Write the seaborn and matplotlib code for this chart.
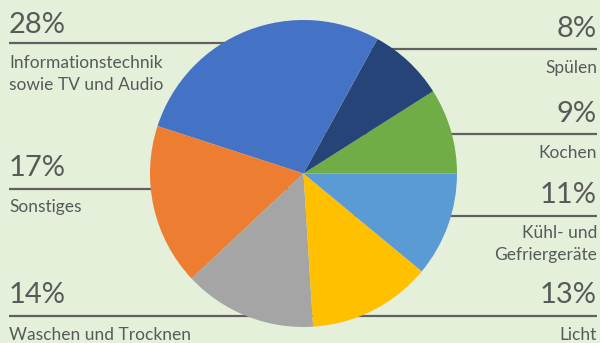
import matplotlib
matplotlib.use("Agg")
import matplotlib.pyplot as plt
import seaborn as sns

# ---- data ----
categories = ["Kochen", "Spülen", "Informationstechnik\nsowie TV und Audio", "Sonstiges",
              "Waschen und Trocknen", "Licht", "Kühl- und\nGefriergeräte"]
values = [9, 8, 28, 17, 14, 13, 11]
colors = ["#70AD47", "#264478", "#4472C4", "#ED7D31", "#A5A5A5", "#FFC000", "#5B9BD5"]

sns.set_theme(style="white")
plt.rcParams["font.family"] = ["Lato", "DejaVu Sans"]

BG = "#E5F0DB"
TXT = "#595959"
W, H = 600, 343

fig = plt.figure(figsize=(6, 3.43), dpi=100, facecolor=BG)

# background axes in pixel coordinates for lines and labels
bg = fig.add_axes([0, 0, 1, 1], zorder=0)
bg.set_xlim(0, W)
bg.set_ylim(H, 0)
bg.axis("off")

# layout: (side, line_y, pct_baseline, label_baseline)
layout = {
    "Informationstechnik\nsowie TV und Audio": ("L", 43.3, 33, 68),
    "Sonstiges": ("L", 189.3, 176, 212),
    "Waschen und Trocknen": ("L", 315.7, 303, 340),
    "Spülen": ("R", 49.3, 37, 73),
    "Kochen": ("R", 134.3, 122, 158),
    "Kühl- und\nGefriergeräte": ("R", 215.7, 203, 238),
    "Licht": ("R", 315.7, 303, 340),
}
cx = 303.5
for cat, val in zip(categories, values):
    side, ly, pb, lb = layout[cat]
    if side == "L":
        x0, x1, tx, ha = 9, cx, 9, "left"
    else:
        x0, x1, tx, ha = cx, 597, 597, "right"
    bg.plot([x0, x1], [ly, ly], color="#606060", lw=1.6, solid_capstyle="butt")
    bg.text(tx, pb, f"{val}%", ha=ha, va="baseline", fontsize=21, color=TXT)
    lines = cat.split("\n")
    for i, t in enumerate(lines):
        bg.text(tx, lb + i * 22, t, ha=ha, va="baseline", fontsize=12.5, color=TXT)

# pie axes
r = 153.5
cy = 173.5
ax = fig.add_axes([(cx - r) / W, (H - cy - r) / H, 2 * r / W, 2 * r / H], zorder=1)
ax.pie(values, colors=colors, startangle=0, counterclock=True, radius=1,
       wedgeprops=dict(linewidth=0))
ax.set_xlim(-1, 1)
ax.set_ylim(-1, 1)
ax.set_aspect("auto")
ax.axis("off")

fig.savefig("out.png", dpi=100, facecolor=BG)
